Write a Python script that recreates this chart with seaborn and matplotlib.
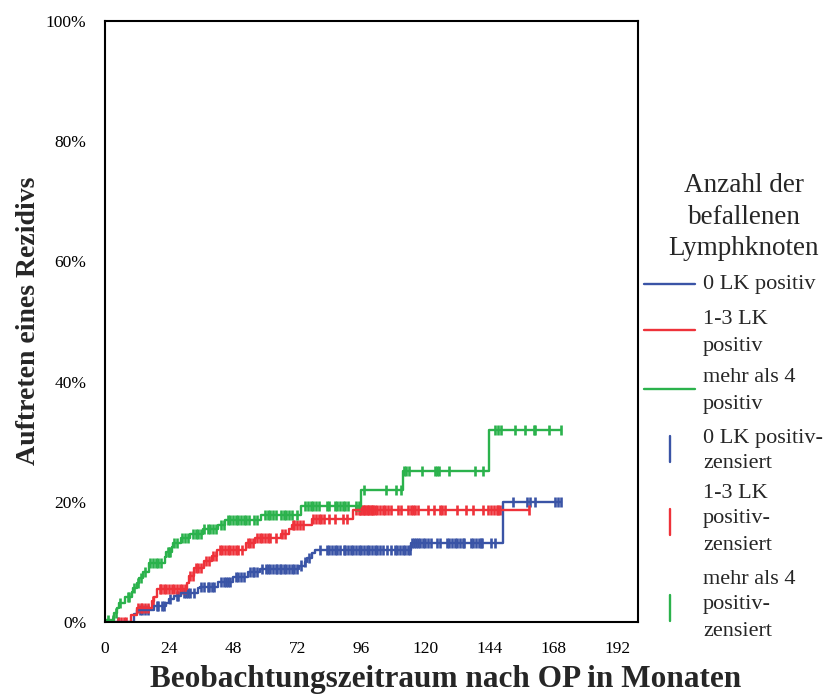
import numpy as np
import pandas as pd
import matplotlib
matplotlib.use("Agg")
import matplotlib.pyplot as plt
from matplotlib.lines import Line2D
from matplotlib.ticker import FuncFormatter
import seaborn as sns

# --- group names and colours -------------------------------------------
groups = ["0 LK positiv", "1-3 LK positiv", "mehr als 4 positiv"]
colors = ["#3a54a6", "#ee323a", "#2bb24c"]

# --- cumulative recurrence: event times (months) and level after event (%) ---
t_lk0 = [0, 10.8, 12.0, 18.5, 23.0, 24.0, 26.0, 28.5, 34.8, 35.5, 42.5, 48.0,
         53.5, 58.0, 72.5, 74.8, 75.5, 77.5, 78.8, 114.5, 149.0, 171.0]
y_lk0 = [0, 1.3, 2.0, 2.6, 3.2, 3.8, 4.3, 4.8, 5.6, 5.9, 6.7, 7.5,
         8.4, 8.9, 9.4, 10.0, 10.6, 11.4, 12.0, 13.2, 19.9, 19.9]

t_lk13 = [0, 9.7, 12.0, 17.5, 18.5, 19.5, 30.8, 31.5, 33.5, 37.0, 40.0, 42.0,
          52.7, 56.3, 65.8, 69.0, 70.0, 77.5, 93.0, 158.7]
y_lk13 = [0, 1.2, 2.4, 3.5, 4.2, 5.5, 6.5, 7.6, 9.0, 10.2, 11.0, 12.0,
          13.1, 13.9, 14.7, 15.5, 16.1, 17.2, 18.6, 18.6]

t_lk4 = [0, 0.5, 3.2, 4.5, 5.3, 7.5, 10.0, 10.6, 12.0, 12.8, 14.4, 16.3, 22.3,
         22.9, 25.0, 25.6, 28.3, 32.0, 36.8, 42.5, 45.0, 58.5, 73.5, 96.0,
         111.5, 143.8, 171.0]
y_lk4 = [0, 0.4, 1.5, 2.3, 3.1, 4.2, 5.0, 5.6, 6.5, 7.3, 8.4, 9.8, 10.8,
         11.7, 12.5, 13.1, 13.9, 14.6, 15.4, 16.2, 17.0, 17.8, 19.3, 22.0,
         25.2, 31.9, 31.9]

# --- censored observations (months) ------------------------------------
c_lk0 = [3, 5, 13, 14, 15, 16, 19.5, 20, 21.5, 22.2, 24.5, 27, 27.5, 29.5,
         30.5, 31, 32, 33.5, 36, 37, 38.5, 39, 40, 41, 43.5, 44.5, 45.5, 46,
         47, 49, 50, 51, 52, 54.5, 55.5, 56, 57, 59, 60.5, 61, 62, 63, 64,
         64.5, 65.5, 66, 67, 68, 69, 70, 71, 72, 73.5, 75, 76.5, 80.5, 83, 84,
         85, 86, 87, 88, 89.5, 90, 91, 92, 93, 94, 95, 96, 97, 98, 99, 100,
         101, 102, 103, 104, 105.5, 107.2, 108.5, 109.5, 110.5, 111.5, 112.5,
         113.5, 114.2, 115, 115.7, 116.5, 117.3, 118, 119, 120, 121, 122,
         124.5, 125.7, 128.2, 129, 130, 131, 132, 133, 134, 134.5, 137, 138,
         139, 140, 141, 141.4, 144.5, 146.3, 152.8, 158.1, 159.4, 161.2,
         168.7, 169.6, 171]
c_lk13 = [5, 6, 7, 8, 12.5, 13.5, 14, 15, 16, 18, 20.5, 21, 22, 23, 24, 25,
          26, 27, 28, 29, 30, 32, 33, 34, 35, 36, 38, 39, 40.5, 41.5, 43, 44,
          45, 46, 47, 48, 49, 50, 51.5, 53.5, 54.5, 55.5, 57, 58, 59, 60, 61,
          62, 64, 66.5, 67.5, 70.5, 71, 72, 73, 74, 78, 79, 80, 81, 82, 84, 86,
          89, 90.5, 94, 95, 95.5, 96, 96.5, 97, 97.5, 98, 98.5, 99, 99.5, 100,
          100.5, 101, 102, 103, 104, 105, 106, 107, 109.8, 111, 113.5, 114.8,
          115.5, 116.3, 117.2, 121, 123.3, 125.4, 126.4, 127.3, 131.7, 135.4,
          137.7, 141.7, 143.6, 144.6, 145.8, 146.7, 147.3, 148, 158.7]
c_lk4 = [1, 3, 4, 5.8, 8.5, 9, 11, 12.5, 13.5, 15, 17, 18, 19, 20, 21, 23.5,
         24, 24.5, 26, 27, 29, 30, 31, 33, 34, 35, 36, 37, 38.5, 39.5, 40.5,
         41.5, 43.5, 44.5, 46, 47, 48, 49, 50, 51, 52, 53, 54, 56, 57, 60, 61,
         62, 63, 64, 66, 67, 68, 69, 70, 72, 75, 76, 77, 78, 79, 80, 83, 84,
         86, 87, 88, 89, 90, 91, 94, 95, 97.2, 105.1, 109.1, 111, 112, 112.9,
         113.8, 118.9, 123.5, 124.3, 125.3, 128.8, 138.5, 141.6, 146, 147.2,
         148.5, 153.7, 157.2, 160.6, 161.2, 166.3, 171]

x_ticks = [0, 24, 48, 72, 96, 120, 144, 168, 192]
y_ticks = [0, 20, 40, 60, 80, 100]

# --- tidy tables --------------------------------------------------------
curve_rows, cens_rows = [], []
for name, t, y, c in zip(groups, [t_lk0, t_lk13, t_lk4],
                         [y_lk0, y_lk13, y_lk4], [c_lk0, c_lk13, c_lk4]):
    curve_rows.append(pd.DataFrame({"Monate": t, "Anteil": y, "Gruppe": name}))
    idx = np.searchsorted(t, c, side="right") - 1
    cens_rows.append(pd.DataFrame({"Monate": c,
                                   "Anteil": np.asarray(y)[idx],
                                   "Gruppe": name}))
curves = pd.concat(curve_rows, ignore_index=True)
censored = pd.concat(cens_rows, ignore_index=True)
palette = dict(zip(groups, colors))

# --- figure -------------------------------------------------------------
sns.set_style("white")
plt.rcParams["font.family"] = ["Liberation Serif", "DejaVu Serif"]

W, H = 829, 695
fig = plt.figure(figsize=(W / 100, H / 100), dpi=100)
ax = fig.add_axes([105 / W, 73 / H, 533 / W, 601 / H])

sns.lineplot(data=curves, x="Monate", y="Anteil", hue="Gruppe",
             palette=palette, drawstyle="steps-post", estimator=None,
             sort=False, linewidth=1.7, legend=False, ax=ax)
sns.scatterplot(data=censored, x="Monate", y="Anteil", hue="Gruppe",
                palette=palette, marker="|", s=52, linewidth=1.9,
                legend=False, ax=ax)

ax.set_xlim(0, 199.7)
ax.set_ylim(0, 100)
ax.set_xticks(x_ticks)
ax.set_yticks(y_ticks)
ax.yaxis.set_major_formatter(FuncFormatter(lambda v, p: f"{v:.0f}%"))
ax.tick_params(direction="out", length=9.5, width=1.4, color="black",
               labelsize=12.5, pad=4, labelcolor="black")
for sp in ax.spines.values():
    sp.set_visible(True)
    sp.set_color("black")
    sp.set_linewidth(1.5)
ax.set_xlabel("")
ax.set_ylabel("")

fig.text(446 / W, 1 - 687 / H, "Beobachtungszeitraum nach OP in Monaten",
         ha="center", va="baseline", fontsize=22.5, fontweight="bold")
fig.text(29 / W, 1 - 321 / H, "Auftreten eines Rezidivs", rotation=90,
         ha="center", va="center", fontsize=20, fontweight="bold")

# --- legend -------------------------------------------------------------
def fx(px):
    return px / W


def fy(py):
    return 1 - py / H


fig.text(fx(744), fy(217), "Anzahl der\nbefallenen\nLymphknoten",
         ha="center", va="center", fontsize=19.5, linespacing=1.36)

line_entries = [(groups[0], colors[0], 284, 284),
                ("1-3 LK\npositiv", colors[1], 330, 333),
                ("mehr als 4\npositiv", colors[2], 389, 391)]
for label, col, ly, ty in line_entries:
    fig.add_artist(Line2D([fx(644), fx(695)], [fy(ly), fy(ly)], color=col,
                          lw=1.7, transform=fig.transFigure))
    fig.text(fx(703), fy(ty), label, ha="left", va="center", fontsize=16,
             linespacing=1.5)

mark_entries = [("0 LK positiv-\nzensiert", colors[0], 449, 451),
                ("1-3 LK\npositiv-\nzensiert", colors[1], 522, 519),
                ("mehr als 4\npositiv-\nzensiert", colors[2], 608, 605)]
for label, col, my, ty in mark_entries:
    fig.add_artist(Line2D([fx(670), fx(670)], [fy(my - 13), fy(my + 13)],
                          color=col, lw=1.7, transform=fig.transFigure))
    fig.text(fx(703), fy(ty), label, ha="left", va="center", fontsize=16,
             linespacing=1.5)

fig.savefig("out.png", dpi=100)
